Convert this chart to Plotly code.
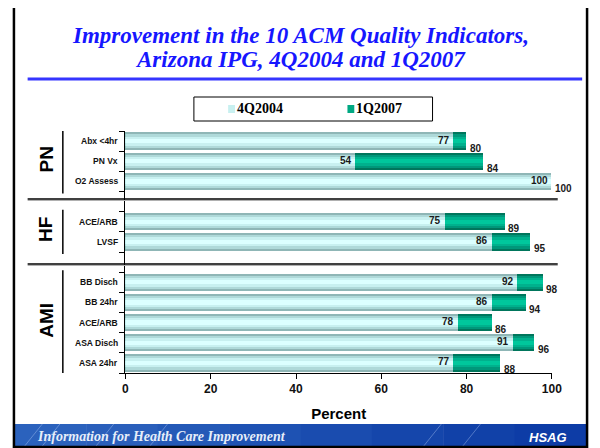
import plotly.graph_objects as go

# data
indicators = ["Abx <4hr", "PN Vx", "O2 Assess", "ACE/ARB", "LVSF",
              "BB Disch", "BB 24hr", "ACE/ARB", "ASA Disch", "ASA 24hr"]
groups = ["PN", "PN", "PN", "HF", "HF", "AMI", "AMI", "AMI", "AMI", "AMI"]
q4_2004 = [77, 54, 100, 75, 86, 92, 86, 78, 91, 77]
q1_2007 = [80, 84, 100, 89, 95, 98, 94, 86, 96, 88]
x_ticks = [0, 20, 40, 60, 80, 100]

# the page body has an 8px margin, so work in window pixels and offset
OFF = 8
W, H = 600 - OFF, 448 - OFF


def px(x):
    return (x - OFF) / W


def py(y):
    return 1 - (y - OFF) / H


# slot positions: one empty slot between groups
pos = []
slot = 0
prev = None
for g in groups:
    if prev is not None and g != prev:
        slot += 1
    pos.append(slot + 0.5)
    slot += 1
    prev = g
n_slots = slot

fig = go.Figure()

# fake vertical gradient: stacked bars of shrinking width
teal_layers = [("#00765c", 0.86), ("#00977a", 0.66), ("#00b18d", 0.44), ("#00c79c", 0.22)]
light_layers = [("#8fb6b6", 0.86), ("#afd9d9", 0.66), ("#c8f0f0", 0.44), ("#dcffff", 0.22)]

for c, w in teal_layers:
    fig.add_trace(go.Bar(
        x=q1_2007, y=pos, orientation="h", width=w,
        marker=dict(color=c, line=dict(width=0)),
        name="1Q2007", hoverinfo="skip",
    ))
for c, w in light_layers:
    fig.add_trace(go.Bar(
        x=q4_2004, y=pos, orientation="h", width=w,
        marker=dict(color=c, line=dict(width=0)),
        name="4Q2004", hoverinfo="skip",
    ))

ann = []
lab_font = dict(family="Liberation Sans", size=10, color="#1a1a1a", weight="bold")
for p, a, b in zip(pos, q4_2004, q1_2007):
    ann.append(dict(x=a, y=p, xref="x", yref="y", text=str(a), showarrow=False,
                    xanchor="right", yanchor="middle", xshift=-2, yshift=1, font=lab_font))
    ann.append(dict(x=b, y=p, xref="x", yref="y", text=str(b), showarrow=False,
                    xanchor="left", yanchor="middle", xshift=1, yshift=-7, font=lab_font))

# category labels
for p, name in zip(pos, indicators):
    ann.append(dict(x=px(119), y=p, xref="paper", yref="y", text=name, showarrow=False,
                    xanchor="right", yanchor="middle",
                    font=dict(family="Liberation Sans", size=8.5, color="#111", weight="bold")))

shapes = []
# group labels and brackets
for g in ["PN", "HF", "AMI"]:
    ps = [p for p, gg in zip(pos, groups) if gg == g]
    mid = (ps[0] + ps[-1]) / 2
    ann.append(dict(x=px(44), y=mid, xref="paper", yref="y", text=g, showarrow=False,
                    textangle=-90, xanchor="center", yanchor="middle", yshift=2,
                    font=dict(family="Liberation Sans", size=19, color="black", weight="bold")))
    shapes.append(dict(type="line", xref="paper", yref="y", x0=px(61), x1=px(61),
                       y0=ps[0] - 0.6, y1=ps[-1] + 0.6, line=dict(color="black", width=1.5)))

# group separators
for sy in [199, 264]:
    shapes.append(dict(type="line", xref="paper", yref="paper", x0=px(25), x1=px(567),
                       y0=py(sy + 1.5), y1=py(sy + 1.5), line=dict(color="#b0b0b0", width=1)))
    shapes.append(dict(type="line", xref="paper", yref="paper", x0=px(25), x1=px(567),
                       y0=py(sy), y1=py(sy), line=dict(color="black", width=1.5)))

# legend box drawn by hand to match the small swatches
shapes.append(dict(type="rect", xref="paper", yref="paper", x0=px(195), x1=px(439),
                   y0=py(121), y1=py(97), fillcolor="white", line=dict(color="black", width=1)))
leg_font = dict(family="Liberation Serif", size=14, color="black", weight="bold")
for sx, col, name in [(230, "#c8f0f0", "4Q2004"), (352, "#00a882", "1Q2007")]:
    shapes.append(dict(type="rect", xref="paper", yref="paper", x0=px(sx), x1=px(sx + 7),
                       y0=py(113), y1=py(105), fillcolor=col, line=dict(width=0)))
    ann.append(dict(x=px(sx + 7), y=py(109), xref="paper", yref="paper", text=name,
                    showarrow=False, xanchor="left", yanchor="middle", font=leg_font))

# title block
title_font = dict(family="Liberation Serif", size=23, color="#1616ff", weight="bold", style="italic")
ann.append(dict(x=px(304), y=py(36), xref="paper", yref="paper", showarrow=False,
                text="Improvement in the 10 ACM Quality Indicators,", font=title_font,
                xanchor="center", yanchor="middle"))
ann.append(dict(x=px(304), y=py(59), xref="paper", yref="paper", showarrow=False,
                text="Arizona IPG, 4Q2004 and 1Q2007", font=title_font,
                xanchor="center", yanchor="middle"))
shapes.append(dict(type="line", xref="paper", yref="paper", x0=px(25), x1=px(592),
                   y0=py(79), y1=py(79), line=dict(color="#3535ff", width=3)))

# footer band
blues = ["#2b62bd", "#2a5fbb", "#2459b7", "#1e52b3", "#1a4caf", "#1546ab", "#1141a8", "#0d3ca6"]
seg = (596 - 12) / len(blues)
for i, c in enumerate(blues):
    shapes.append(dict(type="rect", xref="paper", yref="paper", x0=px(12 + i * seg), x1=px(12 + (i + 1) * seg + 0.5),
                       y0=py(446), y1=py(424), fillcolor=c, line=dict(width=0), layer="above"))
for sx in [22, 40, 95, 150, 430, 470]:
    shapes.append(dict(type="line", xref="paper", yref="paper", x0=px(sx), x1=px(sx + 18),
                       y0=py(446), y1=py(424), line=dict(color="rgba(200,220,255,0.35)", width=1), layer="above"))
ann.append(dict(x=px(33), y=py(436), xref="paper", yref="paper", showarrow=False,
                text="Information for Health Care Improvement", xanchor="left", yanchor="middle",
                font=dict(family="Liberation Serif", size=14, color="#e6eefa", weight="bold", style="italic")))
ann.append(dict(x=px(557), y=py(437), xref="paper", yref="paper", showarrow=False,
                text="HSAG", xanchor="center", yanchor="middle",
                font=dict(family="Liberation Sans", size=13, color="white", weight="bold", style="italic")))

# outer frame
shapes.append(dict(type="rect", xref="paper", yref="paper", x0=px(11), x1=px(597),
                   y0=py(447), y1=py(6), line=dict(color="black", width=2.5), layer="above"))

fig.update_layout(
    width=W, height=H,
    margin=dict(l=0, r=0, t=0, b=0),
    paper_bgcolor="white", plot_bgcolor="white",
    barmode="overlay", bargap=0,
    showlegend=False,
    xaxis=dict(domain=[px(125), px(561)], range=[0, 100], tickvals=x_ticks,
               ticks="outside", ticklen=5, tickcolor="black", showline=True,
               linecolor="black", linewidth=1, showgrid=False, zeroline=False,
               tickfont=dict(family="Liberation Sans", size=12, color="#111", weight="bold"),
               title=dict(text="Percent", standoff=13,
                          font=dict(family="Liberation Sans", size=15, color="black", weight="bold"))),
    yaxis=dict(domain=[py(373), py(131)], range=[n_slots, 0], tickvals=list(range(n_slots + 1)),
               ticks="outside", ticklen=5, tickcolor="black", showticklabels=False,
               showline=True, linecolor="black", linewidth=1, showgrid=False, zeroline=False),
    annotations=ann,
    shapes=shapes,
)

fig.write_html("out.html")
